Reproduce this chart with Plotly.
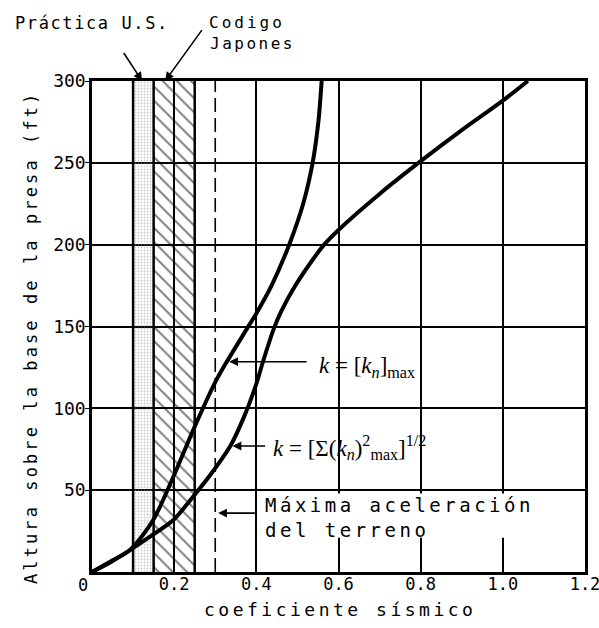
import plotly.graph_objects as go

# ---------------- data ----------------
kmax_coef = [0, 0.044, 0.0925, 0.149, 0.198, 0.25, 0.3, 0.327, 0.378, 0.4, 0.437, 0.48, 0.514, 0.537, 0.551, 0.559]
kmax_height = [0, 6.3, 13.4, 31.8, 58.2, 88.8, 116, 128, 149, 158, 175, 200, 225, 250, 275, 300]

srss_coef = [0, 0.045, 0.0925, 0.141, 0.198, 0.246, 0.29, 0.338, 0.372, 0.4, 0.418, 0.443,
             0.46, 0.495, 0.535, 0.565, 0.6, 0.7, 0.8, 0.9, 1.0, 1.061]
srss_height = [0, 6, 13.4, 21.6, 31.8, 46, 60, 77.6, 96, 115, 130, 149,
               159, 175, 190, 200, 209, 231, 251, 270, 288, 300]

us_practice = [0.10, 0.15]          # stippled band
japan_code = [0.15, 0.20, 0.25]     # hatched bands
ground_accel = 0.30                 # dashed line
x_ticks = [0.2, 0.4, 0.6, 0.8, 1.0, 1.2]
x_tick_text = ["0.2", "0.4", "0.6", "0.8", "1.0", "1.2"]
y_ticks = [50, 100, 150, 200, 250, 300]
y_max = 300
x_max = 1.2

LETTER = "DejaVu Sans Mono"
MATH = "Liberation Serif"

# plot-area geometry in px
L, R, T, B = 92, 585, 81, 572
W, H = 599, 628


def px_x(p):
    return (p - L) / (R - L)


def px_y(p):
    return (B - p) / (B - T)


def spaced(t, s):
    return f'<span style="letter-spacing:{s}px">{t}</span>'


fig = go.Figure()

# stippled band (U.S. practice)
a, b = us_practice
fig.add_trace(go.Scatter(
    x=[a, b, b, a, a], y=[0, 0, y_max, y_max, 0], mode="lines", line=dict(width=0),
    fill="toself", fillcolor="rgba(0,0,0,0)",
    fillpattern=dict(shape=".", fgcolor="#9a9a9a", bgcolor="rgba(0,0,0,0)",
                     size=3, solidity=0.3, fillmode="overlay"),
    hoverinfo="skip", showlegend=False))

# hatched band (Japanese code)
fig.add_trace(go.Scatter(
    x=[japan_code[0], japan_code[-1], japan_code[-1], japan_code[0], japan_code[0]],
    y=[0, 0, y_max, y_max, 0], mode="lines", line=dict(width=0),
    fill="toself", fillcolor="rgba(0,0,0,0)",
    fillpattern=dict(shape="\\", fgcolor="black", bgcolor="rgba(0,0,0,0)",
                     size=10, solidity=0.2, fillmode="overlay"),
    hoverinfo="skip", showlegend=False))

# curves
fig.add_trace(go.Scatter(x=kmax_coef, y=kmax_height, mode="lines",
                         line=dict(color="black", width=4, shape="spline", smoothing=0.8),
                         showlegend=False))
fig.add_trace(go.Scatter(x=srss_coef, y=srss_height, mode="lines",
                         line=dict(color="black", width=4, shape="spline", smoothing=0.8),
                         showlegend=False))

shapes = []
# band boundary lines
for xv, w in [(us_practice[0], 2.5), (us_practice[1], 2.5), (japan_code[1], 1.5), (japan_code[2], 2.5)]:
    shapes.append(dict(type="line", xref="x", yref="y", x0=xv, x1=xv, y0=0, y1=y_max,
                       line=dict(color="black", width=w), layer="above"))
# ground acceleration dashed line
shapes.append(dict(type="line", xref="x", yref="y", x0=ground_accel, x1=ground_accel, y0=0, y1=y_max,
                   line=dict(color="black", width=1.6, dash="14px,6px"), layer="above"))
# white box behind the "Máxima aceleración" label
shapes.append(dict(type="rect", xref="x", yref="y", x0=0.405, x1=1.19, y0=21, y1=48,
                   fillcolor="white", line=dict(width=0), layer="between"))

annotations = []
# x "0" label at the corner
annotations.append(dict(text="0", xref="paper", yref="paper", x=px_x(83), y=px_y(585),
                        xanchor="center", yanchor="middle",
                        showarrow=False, font=dict(family=LETTER, size=17, color="black")))
# axis titles
annotations.append(dict(text=spaced("Altura sobre la base de la presa (ft)", 3.1),
                        xref="paper", yref="paper", x=px_x(31), y=px_y(338), textangle=-90,
                        xanchor="center", yanchor="middle",
                        showarrow=False, font=dict(family=LETTER, size=17, color="black")))
annotations.append(dict(text=spaced("coeficiente sísmico", 3.5),
                        xref="paper", yref="paper", x=px_x(340), y=px_y(609),
                        xanchor="center", yanchor="middle",
                        showarrow=False, font=dict(family=LETTER, size=18, color="black")))
# top labels
annotations.append(dict(text=spaced("Práctica U.S.", 1.6), xref="paper", yref="paper",
                        x=px_x(13), y=px_y(23), xanchor="left", yanchor="middle", showarrow=False,
                        font=dict(family=LETTER, size=17, color="black")))
annotations.append(dict(text=spaced("Codigo", 3), xref="paper", yref="paper",
                        x=px_x(207), y=px_y(23), xanchor="left", yanchor="middle", showarrow=False,
                        font=dict(family=LETTER, size=16, color="black")))
annotations.append(dict(text=spaced("Japones", 2.5), xref="paper", yref="paper",
                        x=px_x(208), y=px_y(43), xanchor="left", yanchor="middle", showarrow=False,
                        font=dict(family=LETTER, size=16, color="black")))
arrow_style = dict(showarrow=True, arrowhead=2, arrowsize=1.1, arrowwidth=1.6, arrowcolor="black", text="")
annotations.append(dict(xref="x", yref="y", axref="x", ayref="y",
                        x=0.122, y=y_max, ax=0.075, ay=318, **arrow_style))
annotations.append(dict(xref="x", yref="y", axref="x", ayref="y",
                        x=0.178, y=y_max, ax=0.27, ay=332, **arrow_style))

# curve labels
annotations.append(dict(xref="x", yref="y", axref="x", ayref="y",
                        x=0.334, y=128.5, ax=0.526, ay=128.5, **arrow_style))
annotations.append(dict(text="<i>k</i> = [<i>k<sub>n</sub></i>]<sub>max</sub>", xref="x", yref="y",
                        x=0.548, y=125, xanchor="left", yanchor="middle", showarrow=False,
                        font=dict(family=MATH, size=23, color="black")))
annotations.append(dict(xref="x", yref="y", axref="x", ayref="y",
                        x=0.342, y=77, ax=0.425, ay=77, **arrow_style))
annotations.append(dict(text="<i>k</i> = [Σ(<i>k<sub>n</sub></i>)<sup>2</sup><sub>max</sub>]<sup>1/2</sup>",
                        xref="x", yref="y", x=0.435, y=76, xanchor="left", yanchor="middle", showarrow=False,
                        font=dict(family=MATH, size=23, color="black")))
# ground acceleration label
annotations.append(dict(xref="x", yref="y", axref="x", ayref="y",
                        x=ground_accel + 0.007, y=36, ax=0.40, ay=36, **arrow_style))
annotations.append(dict(text=spaced("Máxima aceleración", 3.5) + "<br>" + spaced("del terreno", 3.5),
                        xref="x", yref="y", x=0.416, y=33, xanchor="left", yanchor="middle", align="left",
                        showarrow=False, font=dict(family=LETTER, size=19, color="black")))

fig.update_layout(
    width=W, height=H,
    margin=dict(l=L, r=W - R, t=T, b=H - B, autoexpand=False),
    paper_bgcolor="white", plot_bgcolor="white",
    shapes=shapes, annotations=annotations,
    showlegend=False,
)
fig.update_xaxes(range=[0, x_max], tickvals=x_ticks, ticktext=x_tick_text,
                 showgrid=True, gridcolor="black", gridwidth=1.5,
                 showline=True, linecolor="black", linewidth=2.5, mirror=True,
                 ticks="", ticklabelstandoff=-5, zeroline=False, ticklabeloverflow="allow",
                 automargin=False,
                 tickfont=dict(family=LETTER, size=17, color="black"))
fig.update_yaxes(range=[0, y_max], tickvals=y_ticks,
                 showgrid=True, gridcolor="black", gridwidth=1.5,
                 showline=True, linecolor="black", linewidth=2.5, mirror=True,
                 ticks="outside", ticklen=4, tickcolor="black", zeroline=False,
                 ticklabelstandoff=-4, automargin=False,
                 tickfont=dict(family=LETTER, size=18, color="black"))

fig.write_html("out.html")
